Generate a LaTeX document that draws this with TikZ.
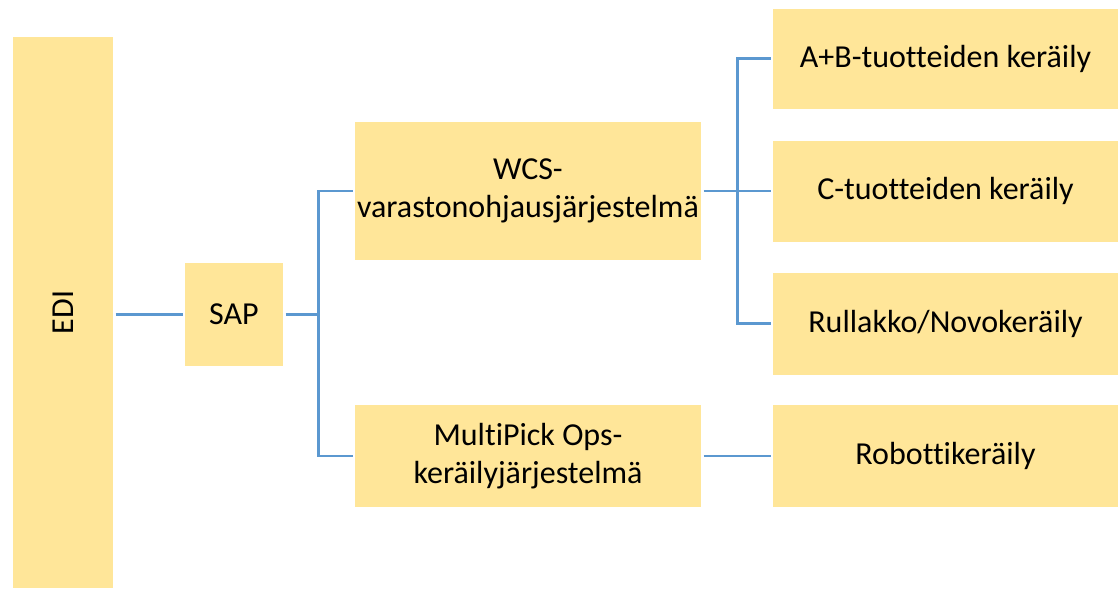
\documentclass[tikz,border=0pt]{standalone}
\usepackage{fontspec}
\setmainfont{Carlito}[Ligatures=NoCommon]
\usetikzlibrary{positioning, calc}
\definecolor{boxfill}{RGB}{255,230,153}
\definecolor{linkblue}{RGB}{91,152,208}
\tikzstyle{system} = [rectangle, fill=boxfill, text centered, align=center, inner sep=0pt, outer sep=2.5pt, font=\fontsize{32}{38}\selectfont]
\tikzstyle{link} = [draw=linkblue, line width=2.5pt]

\begin{document}
\begin{tikzpicture}[x=1pt, y=1pt, node distance=67pt]
\useasboundingbox (0,0) rectangle (1118,-590);
\node (edi) [system, minimum width=100pt, minimum height=551pt] at (63,-312.5) {\rotatebox{90}{EDI}};
\node (sap) [system, minimum width=98pt, minimum height=103pt, right=of edi, yshift=-2pt] {SAP};
\node (wcs) [system, minimum width=346pt, minimum height=138pt, right=of sap, yshift=123.5pt] {WCS-\\varastonohjausjärjestelmä};
\node (multi) [system, minimum width=346pt, minimum height=102pt, below=140pt of wcs] {MultiPick Ops-\\keräilyjärjestelmä};
\node (c) [system, minimum width=345pt, minimum height=101pt, right=of wcs] {C-tuotteiden keräily};
\node (ab) [system, minimum width=345pt, minimum height=100pt, above=27pt of c] {A+B-tuotteiden keräily};
\node (rull) [system, minimum width=345pt, minimum height=102pt, below=26pt of c] {Rullakko/Novokeräily};
\node (robo) [system, minimum width=345pt, minimum height=102pt, right=of multi] {Robottikeräily};
% junctions
\coordinate (j1) at ($(sap.east)+(33,0)$);
\coordinate (j2) at ($(wcs.east)+(34,0)$);
\draw [link] (edi.east |- sap) -- (sap);
\draw [link] (sap) -- (j1) |- (wcs);
\draw [link] (j1) |- (multi);
\draw [link] (wcs) -- (j2) |- (ab);
\draw [link] (j2) |- (c);
\draw [link] (j2) |- (rull);
\draw [link] (multi) -- (robo);
\end{tikzpicture}
\end{document}
